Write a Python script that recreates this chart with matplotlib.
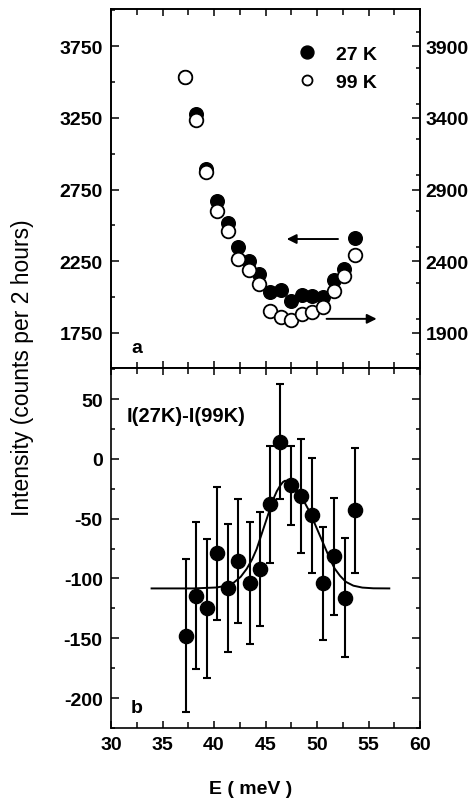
import numpy as np
import matplotlib
matplotlib.use("Agg")
import matplotlib.pyplot as plt
from matplotlib.lines import Line2D
from matplotlib.ticker import MultipleLocator

plt.rcParams['font.family'] = ['Liberation Sans', 'DejaVu Sans']
plt.rcParams['axes.unicode_minus'] = False

# ---------------------------------------------------------------
# DATA
energy = [37.2, 38.23, 39.26, 40.29, 41.32, 42.35, 43.38, 44.41, 45.44,
          46.47, 47.5, 48.53, 49.56, 50.59, 51.62, 52.65, 53.68]
# 27 K, left axis
int27 = [3536, 3276, 2893, 2672, 2514, 2347, 2252, 2161, 2036,
         2048, 1975, 2015, 2008, 2000, 2120, 2196, 2410]
# 99 K, right axis
int99 = [3686, 3387, 3020, 2748, 2613, 2416, 2340, 2240, 2054,
         2012, 1991, 2031, 2043, 2078, 2195, 2300, 2440]

# difference I(27K)-I(99K)
diffE = [37.25, 38.28, 39.29, 40.26, 41.39, 42.36, 43.46, 44.47, 45.44,
         46.44, 47.48, 48.45, 49.49, 50.62, 51.69, 52.72, 53.72]
diffI = [-148, -114.5, -125, -79, -108, -85.5, -104, -92, -38,
         14.5, -22, -31, -47, -104, -81.5, -116, -43]
diffErr = [64, 61.5, 58, 55.6, 53.5, 51.6, 51, 48, 49,
           48, 33, 48, 48, 47.4, 49, 50, 52.3]

# fitted curve
fitE = [33.94, 38.0, 40.26, 41.0, 41.87, 42.6, 43.17, 43.7, 44.14, 44.6,
        45.11, 45.45, 45.76, 46.1, 46.41, 46.7, 46.89, 47.2, 47.54, 47.9,
        48.35, 48.8, 49.32, 49.8, 50.29, 50.8, 51.26, 51.7, 52.23, 52.8,
        53.53, 54.4, 55.47, 57.02]
fitI = [-108.3, -108.3, -107.5, -106.3, -103.8, -98.5, -92, -84, -75.4, -63.5,
        -50.3, -41.5, -33.6, -27, -22.5, -19.3, -18.3, -18.6, -20.2, -23.8,
        -29.4, -36.5, -44.8, -54.5, -64.3, -74.5, -83.8, -91.5, -97.7, -102.8,
        -106, -107.6, -108.2, -108.3]

xTicks = [30, 35, 40, 45, 50, 55, 60]
leftTicks = [1750, 2250, 2750, 3250, 3750]
rightTicks = [1900, 2400, 2900, 3400, 3900]
diffTicks = [-200, -150, -100, -50, 0, 50]

# ---------------------------------------------------------------
W, H = 473., 803.
fig = plt.figure(figsize=(W/100, H/100), dpi=100)
ax1 = fig.add_axes([111/W, 1-369/H, 309/W, 359/H])
ax2 = fig.add_axes([111/W, 1-729/H, 309/W, 360/H])

def style(ax):
    for s in ax.spines.values():
        s.set_linewidth(1.2)
    ax.tick_params(which='both', direction='in', top=True, right=True, width=1.1, pad=6)
    ax.tick_params(axis='x', which='major', length=5)
    ax.tick_params(axis='x', which='minor', length=4)
    ax.tick_params(axis='y', which='major', length=5.5)
    ax.tick_params(axis='y', which='minor', length=3)
    ax.set_xlim(30, 60)
    ax.set_xticks(xTicks)
    ax.xaxis.set_minor_locator(MultipleLocator(2.5))
    for lab in ax.get_xticklabels() + ax.get_yticklabels():
        lab.set_fontsize(14)
        lab.set_fontweight('bold')

# upper panel
ax1.set_ylim(1505, 4010)
ax1.set_yticks(leftTicks)
ax1.yaxis.set_minor_locator(MultipleLocator(250))
style(ax1)
ax1.tick_params(labelbottom=False, right=False, which='both')
ax1.plot(energy, int27, 'o', color='black', ms=9.8, zorder=3)

ax1r = ax1.twinx()
ax1r.set_ylim(1505+150, 4010+150)
ax1r.set_yticks(rightTicks)
ax1r.yaxis.set_minor_locator(MultipleLocator(250))
ax1r.tick_params(which='both', direction='in', width=1.1, pad=4)
ax1r.tick_params(which='major', length=5.5)
ax1r.tick_params(which='minor', length=3)
for lab in ax1r.get_yticklabels():
    lab.set_fontsize(14)
    lab.set_fontweight('bold')
for s in ax1r.spines.values():
    s.set_linewidth(1.2)
ax1r.plot(energy, int99, 'o', mfc='white', mec='black', mew=1.3, ms=9.8, zorder=3)

h27 = Line2D([], [], ls='none', marker='o', color='black', ms=9.3)
h99 = Line2D([], [], ls='none', marker='o', mfc='white', mec='black', mew=1.3, ms=7.2)
ax1r.legend([h27, h99], ['27 K', '99 K'], loc='center left', bbox_to_anchor=(0.604, 0.836),
            frameon=False, borderpad=0, borderaxespad=0, handlelength=1.0,
            handletextpad=0.95, labelspacing=0.55, prop=dict(size=14, weight='bold'))

# arrows indicating the axis of each data set
ax1.annotate('', xy=(47.06, 2405), xytext=(52.04, 2405),
             arrowprops=dict(arrowstyle='-|>', lw=1.4, color='black', mutation_scale=14,
                             shrinkA=0, shrinkB=0))
ax1.annotate('', xy=(55.79, 1848), xytext=(50.93, 1848),
             arrowprops=dict(arrowstyle='-|>', lw=1.4, color='black', mutation_scale=14,
                             shrinkA=0, shrinkB=0))
ax1.text(0.083, 0.058, 'a', transform=ax1.transAxes, fontsize=14, fontweight='bold',
         ha='center', va='center')

# lower panel
ax2.set_ylim(-225, 76)
ax2.set_yticks(diffTicks)
ax2.yaxis.set_minor_locator(MultipleLocator(25))
style(ax2)
ax2.errorbar(diffE, diffI, yerr=diffErr, fmt='o', color='black', ms=10.2,
             elinewidth=1.5, capsize=2.6, capthick=1.5, zorder=3)
ax2.plot(fitE, fitI, '-', color='black', lw=1.4, zorder=2)
ax2.text(0.051, 0.8675, 'I(27K)-I(99K)', transform=ax2.transAxes, fontsize=14.5,
         fontweight='bold', ha='left', va='center')
ax2.text(0.083, 0.058, 'b', transform=ax2.transAxes, fontsize=14, fontweight='bold',
         ha='center', va='center')
ax2.set_xlabel('E ( meV )', fontsize=14, fontweight='bold')
ax2.xaxis.set_label_coords((251-111)/309., (729-781)/360.)

fig.text(23/W, 1-368/H, 'Intensity (counts per 2 hours)', rotation=90, fontsize=16.5,
         ha='center', va='center')

plt.savefig('out.png', dpi=100)
